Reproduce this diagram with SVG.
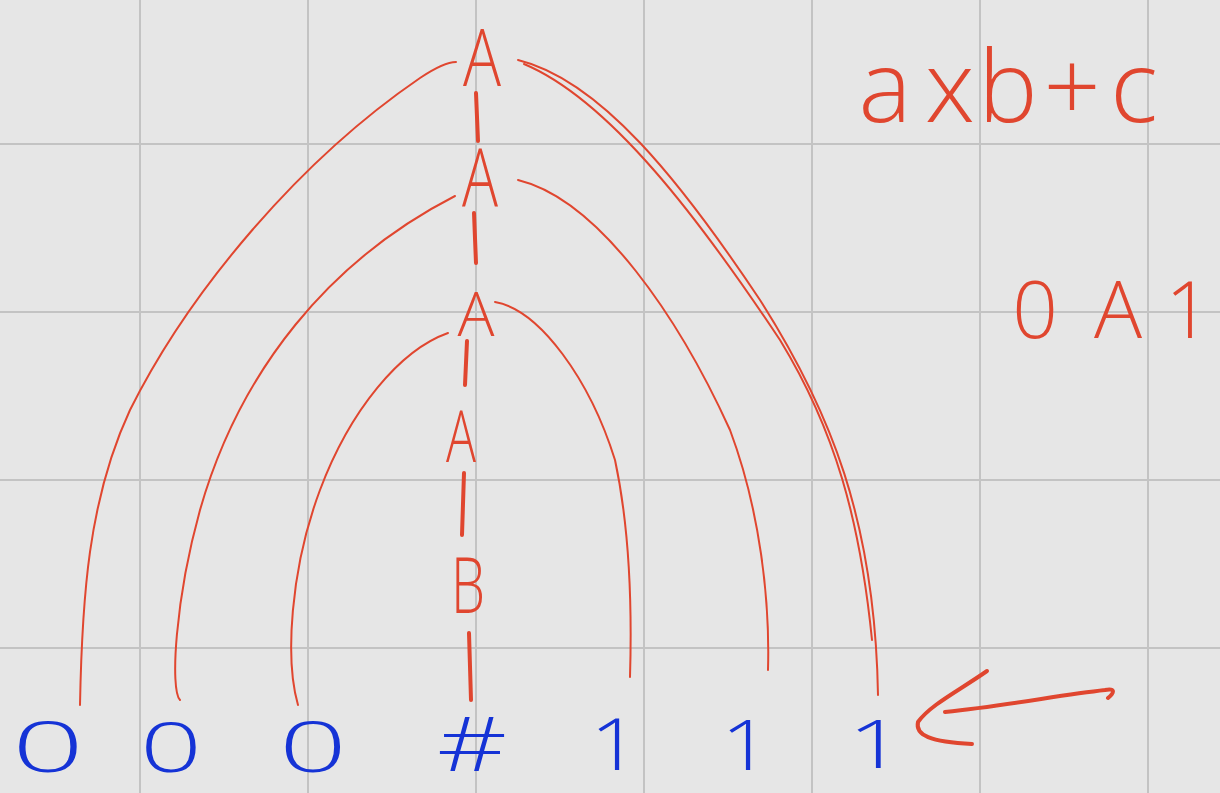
<svg xmlns="http://www.w3.org/2000/svg" width="1220" height="793" viewBox="0 0 1220 793">
<style>
.grid{stroke:#c3c3c3;stroke-width:2}
.r{fill:#e0462f;font-family:"Open Sans","Liberation Sans",sans-serif;font-weight:300}
.b{fill:#1533d6;font-family:"Open Sans","Liberation Sans",sans-serif;font-weight:300}
.arc{fill:none;stroke:#e0462f;stroke-width:2;stroke-linecap:round}
.dash{fill:none;stroke:#e0462f;stroke-width:4;stroke-linecap:round}
</style>
<rect width="1220" height="793" fill="#e6e6e6"/>
<g id="grid">
<line class="grid" x1="140" y1="0" x2="140" y2="793"/>
<line class="grid" x1="308" y1="0" x2="308" y2="793"/>
<line class="grid" x1="476" y1="0" x2="476" y2="793"/>
<line class="grid" x1="644" y1="0" x2="644" y2="793"/>
<line class="grid" x1="812" y1="0" x2="812" y2="793"/>
<line class="grid" x1="980" y1="0" x2="980" y2="793"/>
<line class="grid" x1="1148" y1="0" x2="1148" y2="793"/>
<line class="grid" x1="0" y1="144" x2="1220" y2="144"/>
<line class="grid" x1="0" y1="312" x2="1220" y2="312"/>
<line class="grid" x1="0" y1="480" x2="1220" y2="480"/>
<line class="grid" x1="0" y1="648" x2="1220" y2="648"/>
</g>
<g id="connectors">
<path class="arc" d="M80,705 C82,600 88,500 130,410 C190,290 300,160 420,78 C435,68 448,62 456,62"/>
<path class="arc" d="M518,60 C600,80 680,180 760,300 C830,410 875,520 878,695"/>
<path class="arc" d="M524,64 C610,100 700,220 780,340 C835,430 860,520 872,640"/>
<path class="arc" d="M180,700 C170,690 175,600 200,510 C240,370 330,260 455,196"/>
<path class="arc" d="M518,180 C600,200 680,320 730,430 C760,510 770,600 768,670"/>
<path class="arc" d="M298,705 C285,660 290,570 320,490 C350,410 400,350 448,333"/>
<path class="arc" d="M495,302 C540,310 590,380 615,460 C630,530 632,610 630,677"/>
<path class="dash" d="M476,93 L478,141"/>
<path class="dash" d="M474,213 L476,263"/>
<path class="dash" d="M467,341 L465,385"/>
<path class="dash" d="M464,473 L462,535"/>
<path class="dash" d="M469,633 L471,700"/>
<path class="dash" d="M1108,698 C1115,692 1115,688 1105,690 C1060,695 1010,705 945,712"/>
<path class="dash" d="M987,671 C960,690 930,705 918,722 C915,735 930,742 972,744"/>
</g>
<g id="n_A1"><text class="r" x="482" y="86" font-size="80" text-anchor="middle" textLength="38" lengthAdjust="spacingAndGlyphs">A</text></g>
<g id="n_A2"><text class="r" x="480" y="207" font-size="82" text-anchor="middle" textLength="36" lengthAdjust="spacingAndGlyphs">A</text></g>
<g id="n_A3"><text class="r" x="476" y="336" font-size="60" text-anchor="middle" textLength="37" lengthAdjust="spacingAndGlyphs">A</text></g>
<g id="n_A4"><text class="r" x="461" y="462" font-size="72" text-anchor="middle" textLength="30" lengthAdjust="spacingAndGlyphs">A</text></g>
<g id="n_B"><text class="r" x="468" y="613" font-size="78" text-anchor="middle" textLength="34" lengthAdjust="spacingAndGlyphs">B</text></g>
<g id="n_z1"><text class="b" x="48" y="772" font-size="70" text-anchor="middle" textLength="72" lengthAdjust="spacingAndGlyphs">0</text></g>
<g id="n_z2"><text class="b" x="171" y="772" font-size="68" text-anchor="middle" textLength="62" lengthAdjust="spacingAndGlyphs">0</text></g>
<g id="n_z3"><text class="b" x="313" y="772" font-size="70" text-anchor="middle" textLength="68" lengthAdjust="spacingAndGlyphs">0</text></g>
<g id="n_hash"><text class="b" x="472" y="771" font-size="75" text-anchor="middle" textLength="70" lengthAdjust="spacingAndGlyphs">#</text></g>
<g id="n_o1"><text class="b" x="615" y="770" font-size="72" text-anchor="middle" textLength="50" lengthAdjust="spacingAndGlyphs">1</text></g>
<g id="n_o2"><text class="b" x="746" y="770" font-size="70" text-anchor="middle" textLength="50" lengthAdjust="spacingAndGlyphs">1</text></g>
<g id="n_o3"><text class="b" x="876" y="768" font-size="66" text-anchor="middle" textLength="56" lengthAdjust="spacingAndGlyphs">1</text></g>
<g id="n_expr"><text class="r" y="122" font-size="100" x="885 920 950 985 1008 1043 1072 1107 1134" text-anchor="middle">a x b + c</text></g>
<g id="n_oa1"><text class="r" y="338" font-size="80" x="1035 1070 1118 1152 1188" text-anchor="middle">0 A 1</text></g>
</svg>
